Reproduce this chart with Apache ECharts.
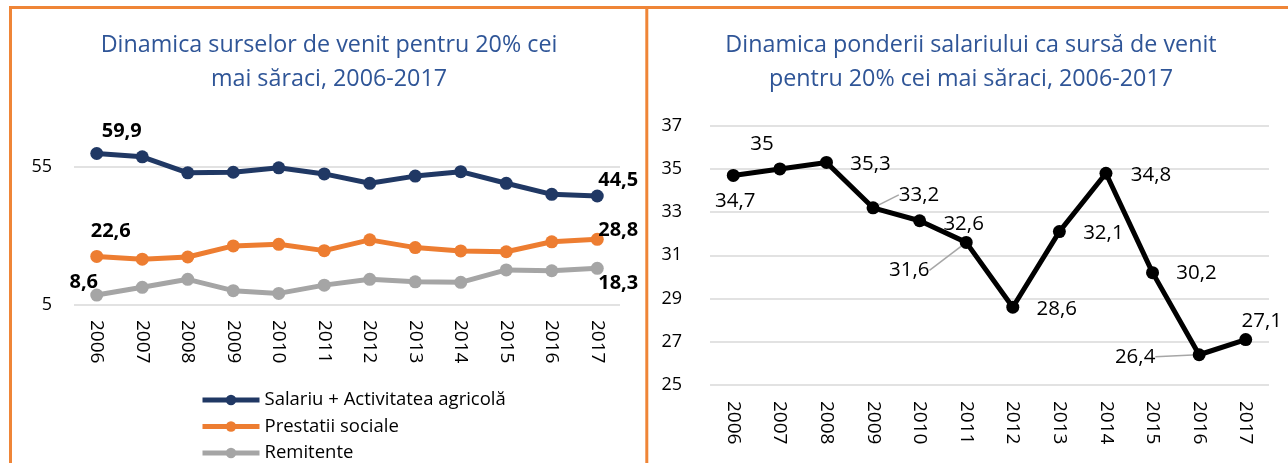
<!DOCTYPE html>
<html><head><meta charset="utf-8">
<script src="https://cdn.jsdelivr.net/npm/echarts@6/dist/echarts.min.js"></script>
<style>html,body{margin:0;padding:0;background:#fff}#c{width:1288px;height:463px}</style>
</head><body><div id="c"></div>
<script>
// ---- data ----
const years = ['2006','2007','2008','2009','2010','2011','2012','2013','2014','2015','2016','2017'];
const seriesNames = ['Salariu + Activitatea agricolă', 'Prestatii sociale', 'Remitente'];
const salariu   = [59.9, 58.7, 52.9, 53.1, 54.7, 52.5, 49.1, 51.7, 53.3, 49.1, 45.1, 44.5];
const prestatii = [22.6, 21.6, 22.4, 26.4, 27.0, 24.7, 28.6, 25.8, 24.6, 24.3, 27.9, 28.8];
const remitente = [8.6, 11.4, 14.3, 10.2, 9.2, 12.2, 14.3, 13.4, 13.2, 17.7, 17.4, 18.3];
const pondere   = [34.7, 35, 35.3, 33.2, 32.6, 31.6, 28.6, 32.1, 34.8, 30.2, 26.4, 27.1];
const leftTicks  = [5, 55];
const rightTicks = [25, 27, 29, 31, 33, 35, 37];
const titleLeft  = 'Dinamica surselor de venit pentru 20% cei\nmai săraci, 2006-2017';
const titleRight = 'Dinamica ponderii salariului ca sursă de venit\npentru 20% cei mai săraci, 2006-2017';

// ---- styling / layout ----
const FONT = "'Open Sans', sans-serif";
const C_NAVY = '#203864', C_ORANGE = '#ED7D31', C_GRAY = '#A5A5A5', C_BORDER = '#EF8537';
const fmt = v => String(v).replace('.', ',');
// label offsets (first, last) for left chart
const leftOffsets = [
  [[25, -22], [21, -16]],
  [[14, -25], [21, -9]],
  [[-13, -13], [21, 15]]
];
// label offsets for right chart and which have leader lines
const rightOffsets = [[2,26],[-18,-25],[44,2],[46,-13],[44,3],[-57,28],[44,2],[44,2],[45,2],[44,1],[-64,2],[16,-18]];
const withLeader = [3, 5, 10];

function endLabels(values, offs) {
  return values.map((v, i) => {
    if (i === 0) return { value: v, label: { show: true, offset: offs[0] } };
    if (i === values.length - 1) return { value: v, label: { show: true, offset: offs[1] } };
    return v;
  });
}
function leftSeries(name, values, color, offs) {
  return {
    name, type: 'line', xAxisIndex: 0, yAxisIndex: 0,
    data: endLabels(values, offs),
    symbol: 'circle', symbolSize: 13, clip: false,
    lineStyle: { width: 5, color }, itemStyle: { color },
    label: { show: false, position: 'inside', formatter: p => fmt(p.value),
             fontFamily: FONT, fontSize: 20, fontWeight: 'bold', color: '#000' },
    emphasis: { disabled: true }
  };
}

const chart = echarts.init(document.getElementById('c'), null, { renderer: 'canvas' });
const yLabel = { fontFamily: FONT, fontSize: 18, color: '#000' };
const xLabel = { fontFamily: FONT, fontSize: 19, color: '#000', rotate: -90, interval: 0 };
const split = { show: true, lineStyle: { color: '#D9D9D9', width: 1.5 } };

chart.setOption({
  animation: false,
  backgroundColor: '#fff',
  grid: [
    { left: 74, right: 1288 - 620, top: 167, bottom: 463 - 305, containLabel: false, outerBoundsMode: 'none' },
    { left: 710, right: 1288 - 1269, top: 125.7, bottom: 463 - 385, containLabel: false, outerBoundsMode: 'none' }
  ],
  xAxis: [
    { type: 'category', gridIndex: 0, data: years, boundaryGap: true,
      axisLine: { show: false }, axisTick: { show: false }, axisLabel: Object.assign({ margin: 15 }, xLabel) },
    { type: 'category', gridIndex: 1, data: years, boundaryGap: true,
      axisLine: { show: false }, axisTick: { show: false }, axisLabel: Object.assign({ margin: 16 }, xLabel) }
  ],
  yAxis: [
    { type: 'value', gridIndex: 0, min: leftTicks[0], max: leftTicks[leftTicks.length - 1],
      interval: leftTicks[1] - leftTicks[0],
      axisLine: { show: false }, axisTick: { show: false }, splitLine: split,
      axisLabel: Object.assign({ margin: 22 }, yLabel) },
    { type: 'value', gridIndex: 1, min: rightTicks[0], max: rightTicks[rightTicks.length - 1],
      interval: rightTicks[1] - rightTicks[0],
      axisLine: { show: false }, axisTick: { show: false }, splitLine: split,
      axisLabel: Object.assign({ margin: 28 }, yLabel) }
  ],
  legend: {
    data: seriesNames, orient: 'vertical', left: 200, top: 390, padding: 0,
    itemWidth: 57, itemHeight: 13, itemGap: 6.5, selectedMode: false,
    lineStyle: { width: 5 },
    textStyle: { fontFamily: FONT, fontSize: 18.5, color: '#000', lineHeight: 20 }
  },
  series: [
    leftSeries(seriesNames[0], salariu, C_NAVY, leftOffsets[0]),
    leftSeries(seriesNames[1], prestatii, C_ORANGE, leftOffsets[1]),
    leftSeries(seriesNames[2], remitente, C_GRAY, leftOffsets[2]),
    {
      name: 'Pondere salariu', type: 'line', xAxisIndex: 1, yAxisIndex: 1,
      data: pondere.map((v, i) => withLeader.indexOf(i) >= 0
        ? { value: v, labelLine: { show: true } } : v),
      symbol: 'circle', symbolSize: 13, clip: false,
      lineStyle: { width: 5, color: '#000' }, itemStyle: { color: '#000' },
      label: { show: true, position: 'inside', formatter: p => fmt(p.value),
               fontFamily: FONT, fontSize: 20.5, color: '#000' },
      labelLine: { show: false, lineStyle: { color: '#A6A6A6', width: 1.5 } },
      labelLayout: p => ({ dx: rightOffsets[p.dataIndex][0], dy: rightOffsets[p.dataIndex][1] }),
      emphasis: { disabled: true }
    }
  ],
  graphic: [
    { type: 'line', shape: { x1: 9, y1: 7.5, x2: 1288, y2: 7.5 }, style: { stroke: C_BORDER, lineWidth: 3 }, silent: true },
    { type: 'line', shape: { x1: 10.5, y1: 6, x2: 10.5, y2: 463 }, style: { stroke: C_BORDER, lineWidth: 3 }, silent: true },
    { type: 'line', shape: { x1: 646.8, y1: 6, x2: 646.8, y2: 463 }, style: { stroke: C_BORDER, lineWidth: 3 }, silent: true },
    { type: 'text', x: 329, y: 29, silent: true,
      style: { text: titleLeft, align: 'center', verticalAlign: 'top', fontFamily: FONT, fontSize: 23.3,
               lineHeight: 33.5, fill: '#2F5597' } },
    { type: 'text', x: 971, y: 29, silent: true,
      style: { text: titleRight, align: 'center', verticalAlign: 'top', fontFamily: FONT, fontSize: 23.3,
               lineHeight: 33.5, fill: '#2F5597' } }
  ]
});
</script>
</body></html>
